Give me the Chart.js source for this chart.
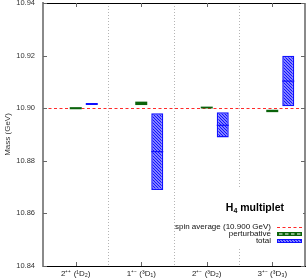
<!DOCTYPE html>
<html>
<head>
<meta charset="utf-8">
<script src="https://cdn.jsdelivr.net/npm/chart.js@4.4.1/dist/chart.umd.min.js"></script>
<style>
html, body { margin: 0; padding: 0; background: #fff; }
#wrap { width: 307px; height: 280px; }
</style>
</head>
<body>
<div id="wrap"><canvas id="massChart" width="307" height="280"></canvas></div>
<script>
// H4 multiplet masses (GeV)
const states = ['2⁺⁺ (¹D₂)', '1⁺⁻ (³D₁)', '2⁺⁻ (³D₂)', '3⁺⁻ (³D₃)'];
const pertLow  = [10.8996, 10.9012, 10.8999, 10.8985];
const pertHigh = [10.9004, 10.9025, 10.9006, 10.8994];
const totalLow  = [10.9012, 10.8689, 10.8889, 10.9007];
const totalHigh = [10.9020, 10.8981, 10.8985, 10.9199];
const totalMid  = [10.9016, 10.8835, 10.8935, 10.9103];
const spinAverage = 10.900;
const massTicks = [10.84, 10.86, 10.88, 10.90, 10.92, 10.94];

const FONT = '"Liberation Sans", Arial, sans-serif';
const BLUE = '#1010ff';
const GREEN = '#0b630b';
const RED = '#ff2a2a';

// blue hatch for the "total" boxes
function makeHatch(bg, fg, size, lw) {
    const c = document.createElement('canvas');
    c.width = size; c.height = size;
    const g = c.getContext('2d');
    g.fillStyle = bg;
    g.fillRect(0, 0, size, size);
    g.strokeStyle = fg;
    g.lineWidth = lw;
    g.beginPath();
    g.moveTo(-1, -1); g.lineTo(size + 1, size + 1);
    g.moveTo(-1, size - 1); g.lineTo(1, size + 1);
    g.moveTo(size - 1, -1); g.lineTo(size + 1, 1);
    g.stroke();
    return c;
}

const ctx = document.getElementById('massChart').getContext('2d');
const hatch = ctx.createPattern(makeHatch('#ffffff', BLUE, 3, 1.5), 'repeat');

const marks = {
    id: 'marks',
    beforeDatasetsDraw(chart) {
        const {ctx, chartArea: a, scales: {y}} = chart;
        const yy = Math.round(y.getPixelForValue(spinAverage)) + 0.5;
        ctx.save();
        ctx.strokeStyle = RED;
        ctx.lineWidth = 1;
        ctx.setLineDash([3, 2.5]);
        ctx.beginPath();
        ctx.moveTo(a.left, yy);
        ctx.lineTo(a.right, yy);
        ctx.stroke();
        ctx.restore();
    },
    afterDatasetsDraw(chart) {
        const {ctx, scales: {y}} = chart;
        const meta = chart.getDatasetMeta(2);
        ctx.save();
        ctx.strokeStyle = BLUE;
        ctx.lineWidth = 1.2;
        meta.data.forEach((bar, i) => {
            const yy = y.getPixelForValue(totalMid[i]);
            ctx.beginPath();
            ctx.moveTo(bar.x - bar.width / 2, yy);
            ctx.lineTo(bar.x + bar.width / 2, yy);
            ctx.stroke();
        });
        ctx.restore();
    },
    afterDraw(chart) {
        const {ctx, chartArea: a, scales: {x, y}} = chart;
        ctx.save();
        // frame: top and right
        ctx.strokeStyle = '#000';
        ctx.lineWidth = 1;
        ctx.beginPath();
        ctx.moveTo(a.left, a.top + 0.5);
        ctx.lineTo(a.right, a.top + 0.5);
        ctx.stroke();
        ctx.strokeStyle = '#8a8a8a';
        ctx.lineWidth = 2;
        ctx.beginPath();
        ctx.moveTo(a.right, a.top);
        ctx.lineTo(a.right, a.bottom);
        ctx.stroke();

        // inward ticks
        ctx.strokeStyle = '#666';
        ctx.lineWidth = 1;
        ctx.beginPath();
        massTicks.forEach(v => {
            const yy = Math.round(y.getPixelForValue(v)) + 0.5;
            ctx.moveTo(a.left, yy); ctx.lineTo(a.left + 4, yy);
            ctx.moveTo(a.right - 4, yy); ctx.lineTo(a.right, yy);
        });
        states.forEach((s, i) => {
            const xx = Math.round(x.getPixelForTick(i)) + 0.5;
            ctx.moveTo(xx, a.top); ctx.lineTo(xx, a.top + 4);
            ctx.moveTo(xx, a.bottom); ctx.lineTo(xx, a.bottom - 4);
        });
        ctx.stroke();

        // legend (opaque)
        const lx = a.right - 130, ly = a.bottom - 79;
        ctx.fillStyle = '#fff';
        ctx.fillRect(lx, ly, 128, 61);

        ctx.fillStyle = '#000';
        ctx.textAlign = 'left';
        ctx.textBaseline = 'middle';
        ctx.font = 'bold 10.5px ' + FONT;
        const wH = ctx.measureText('H').width;
        const wM = ctx.measureText(' multiplet').width;
        ctx.font = 'bold 7px ' + FONT;
        const w4 = ctx.measureText('4').width;
        let tx = a.right - 21 - (wH + w4 + wM);
        ctx.font = 'bold 10.5px ' + FONT;
        ctx.fillText('H', tx, ly + 21);
        ctx.fillText(' multiplet', tx + wH + w4, ly + 21);
        ctx.font = 'bold 7px ' + FONT;
        ctx.fillText('4', tx + wH, ly + 24);

        ctx.textAlign = 'right';
        const textX = a.right - 34;
        const sx = a.right - 28, sw = 25;
        ctx.font = '8px ' + FONT;
        ctx.fillStyle = '#111';
        const rows = [ly + 40, ly + 47, ly + 54];
        ctx.fillText('spin average (10.900 GeV)', textX, rows[0]);
        ctx.fillText('perturbative', textX, rows[1]);
        ctx.fillText('total', textX, rows[2]);

        ctx.strokeStyle = RED;
        ctx.lineWidth = 1;
        ctx.setLineDash([3, 2.5]);
        ctx.beginPath();
        ctx.moveTo(sx, rows[0] + 0.5);
        ctx.lineTo(sx + sw, rows[0] + 0.5);
        ctx.stroke();
        ctx.setLineDash([]);

        // perturbative sample
        ctx.fillStyle = GREEN;
        ctx.fillRect(sx, rows[1] - 2, sw, 4);
        ctx.fillStyle = '#fff';
        for (let k = 2; k < sw - 2; k += 6) ctx.fillRect(sx + k, rows[1] - 0.5, 3.5, 1);
        // total sample
        ctx.fillStyle = hatch;
        ctx.fillRect(sx, rows[2] - 2, sw, 4);
        ctx.strokeStyle = BLUE;
        ctx.strokeRect(sx + 0.5, rows[2] - 1.5, sw - 1, 3);
        ctx.restore();
    }
};

const massChart = new Chart(ctx, {
    type: 'bar',
    data: {
        labels: states,
        datasets: [
            { label: '', data: states.map(() => null) },
            {
                label: 'perturbative',
                data: pertLow.map((v, i) => [v, pertHigh[i]]),
                backgroundColor: GREEN,
                borderWidth: 0
            },
            {
                label: 'total',
                data: totalLow.map((v, i) => [v, totalHigh[i]]),
                backgroundColor: hatch,
                borderColor: BLUE,
                borderWidth: 1.5,
                borderSkipped: false
            }
        ]
    },
    options: {
        responsive: false,
        animation: false,
        devicePixelRatio: 1,
        layout: { padding: { top: 3, right: 2, left: 0, bottom: 0 } },
        datasets: { bar: { categoryPercentage: 0.733, barPercentage: 0.75 } },
        plugins: { legend: { display: false }, tooltip: { enabled: false } },
        scales: {
            x: {
                grid: { offset: true, color: '#b4b4b4', lineWidth: 1, drawTicks: false },
                border: { color: '#000', width: 1, dash: [1, 2] },
                ticks: { color: '#222', font: { family: FONT, size: 8 }, padding: 3, maxRotation: 0, autoSkip: false },
                afterFit: s => { s.height = 14; }
            },
            y: {
                min: 10.84,
                max: 10.94,
                afterBuildTicks: s => { s.ticks = massTicks.map(v => ({ value: v })); },
                grid: { display: false, drawTicks: true, tickLength: 8 },
                border: { color: '#8a8a8a', width: 2 },
                ticks: {
                    callback: v => v.toFixed(2),
                    color: '#333',
                    font: { family: FONT, size: 7.5, lineHeight: 0.8 },
                    padding: 0
                },
                title: {
                    display: true,
                    text: 'Mass (GeV)',
                    color: '#333',
                    font: { family: FONT, size: 8 },
                    padding: { top: 3, bottom: 0 }
                },
                afterFit: s => { s.width = 43; }
            }
        }
    },
    plugins: [marks]
});
</script>
</body>
</html>
